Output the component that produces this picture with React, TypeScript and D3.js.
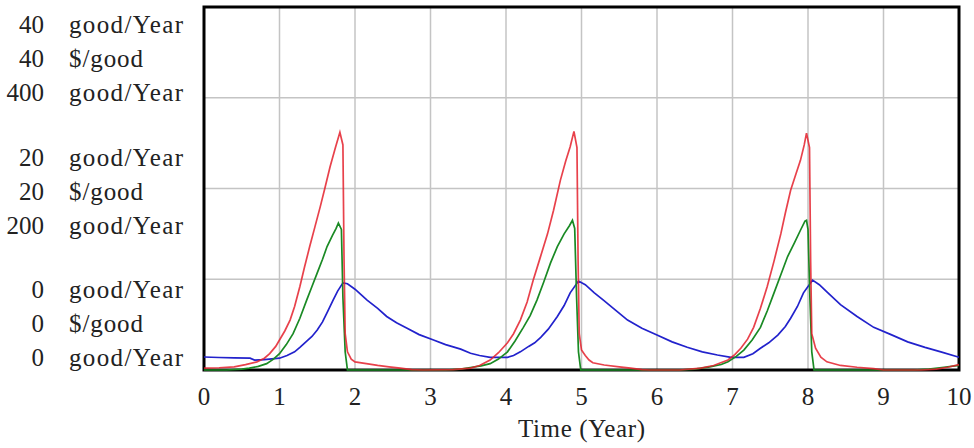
import * as d3 from "d3";

// time axis
const xTicks = [0, 1, 2, 3, 4, 5, 6, 7, 8, 9, 10];

// left axis, one group of three labels per gridline (top, middle, bottom)
const unitLabels = ["good/Year", "$/good", "good/Year"];
const tickValues = [40, 20, 0];
const groupLabels = [
  ["40", "40", "400"],
  ["20", "20", "200"],
  ["0", "0", "0"],
];

// series 1: good/Year, 0..40 (blue)
const seriesBlue: [number, number][] = [
  [0, 1.43], [0.2, 1.38], [0.4, 1.33], [0.61, 1.3], [0.67, 1.1], [0.8, 1.15], [1.0, 1.3],
  [1.1, 1.6], [1.2, 2.0], [1.27, 2.5], [1.35, 3.1], [1.43, 3.7], [1.5, 4.4], [1.57, 5.3],
  [1.64, 6.5], [1.71, 7.7], [1.77, 8.7], [1.84, 9.6], [1.9, 9.5], [2.0, 8.9], [2.08, 8.3],
  [2.16, 7.7], [2.3, 6.8], [2.42, 5.9], [2.55, 5.2], [2.69, 4.6], [2.85, 3.9], [3.04, 3.3],
  [3.2, 2.8], [3.4, 2.3], [3.53, 1.85], [3.65, 1.6], [3.79, 1.4], [4.02, 1.4], [4.1, 1.6],
  [4.19, 2.0], [4.3, 2.6], [4.38, 3.0], [4.46, 3.6], [4.56, 4.5], [4.68, 5.9], [4.77, 7.1],
  [4.85, 8.5], [4.96, 9.8], [5.05, 9.4], [5.17, 8.5], [5.29, 7.7], [5.45, 6.6], [5.61, 5.5],
  [5.8, 4.6], [6.0, 3.85], [6.2, 3.1], [6.4, 2.5], [6.6, 2.0], [6.8, 1.65], [6.98, 1.4],
  [7.15, 1.4], [7.27, 1.8], [7.37, 2.4], [7.48, 3.0], [7.6, 3.85], [7.7, 4.8], [7.77, 5.7],
  [7.86, 7.0], [7.94, 8.5], [8.06, 9.9], [8.15, 9.4], [8.25, 8.6], [8.43, 7.2], [8.65, 5.9],
  [8.87, 4.7], [9.1, 3.9], [9.32, 3.1], [9.55, 2.5], [9.76, 2.0], [10, 1.4],
];

// series 2: $/good, 0..40 (red)
const seriesRed: [number, number][] = [
  [0, 0.2], [0.2, 0.25], [0.4, 0.35], [0.55, 0.6], [0.7, 0.9], [0.8, 1.3], [0.87, 1.8],
  [0.95, 2.6], [1.0, 3.3], [1.07, 4.3], [1.14, 5.5], [1.2, 7.0], [1.27, 9.2], [1.33, 11.3],
  [1.4, 13.6], [1.47, 15.8], [1.54, 18], [1.6, 20], [1.67, 22.4], [1.74, 24.5], [1.8, 26.2],
  [1.84, 24.8], [1.855, 12], [1.87, 4], [1.9, 2.0], [1.95, 1.2], [2.0, 0.9], [2.15, 0.7],
  [2.3, 0.5], [2.45, 0.35], [2.6, 0.2], [2.75, 0.05], [2.9, 0],
  [3.3, 0.05], [3.53, 0.2], [3.65, 0.5], [3.79, 1.1], [3.9, 1.9], [4.02, 3.0], [4.1, 4.0],
  [4.19, 5.5], [4.28, 7.5], [4.36, 9.9], [4.45, 12.3], [4.55, 15], [4.63, 17.6], [4.72, 20.9],
  [4.79, 23], [4.85, 24.6], [4.9, 26.3], [4.94, 24.5], [4.955, 12], [4.97, 4], [5.0, 2.2],
  [5.05, 1.6], [5.1, 1.1], [5.15, 0.8], [5.3, 0.55], [5.5, 0.35], [5.65, 0.2], [5.8, 0.05],
  [5.9, 0], [6.3, 0], [6.58, 0.2], [6.75, 0.5], [6.94, 1.1], [7.03, 1.7], [7.11, 2.4],
  [7.2, 3.4], [7.28, 4.7], [7.37, 6.8], [7.46, 9.2], [7.55, 12], [7.64, 15], [7.7, 17.3],
  [7.77, 19.8], [7.84, 21.6], [7.9, 23.1], [7.95, 24.8], [7.98, 26.1], [8.02, 24.5],
  [8.035, 12], [8.05, 4], [8.1, 2.4], [8.17, 1.4], [8.25, 0.9], [8.43, 0.5], [8.65, 0.3],
  [8.87, 0.15], [9.0, 0], [9.5, 0], [9.7, 0.1], [9.85, 0.3], [10, 0.6],
];

// series 3: good/Year, 0..400 (green)
const seriesGreen: [number, number][] = [
  [0, 0], [0.3, 0], [0.5, 1], [0.6, 2], [0.72, 4], [0.83, 7], [0.92, 12], [1.0, 18],
  [1.09, 28], [1.18, 40], [1.27, 57], [1.36, 77], [1.43, 92], [1.5, 107], [1.57, 122],
  [1.63, 136], [1.7, 148], [1.75, 156], [1.78, 162], [1.82, 155], [1.84, 80], [1.87, 20],
  [1.9, 0], [3.2, 0], [3.4, 1], [3.55, 3], [3.67, 4.5], [3.79, 7], [3.9, 12], [4.02, 20],
  [4.12, 32], [4.23, 47], [4.32, 60], [4.41, 77], [4.5, 97], [4.59, 118], [4.68, 136],
  [4.77, 150], [4.84, 159], [4.88, 165], [4.91, 156], [4.935, 80], [4.96, 20], [4.99, 0],
  [6.3, 0], [6.5, 1], [6.7, 3.5], [6.85, 6], [6.94, 9], [7.05, 15], [7.15, 22], [7.26, 33],
  [7.37, 47], [7.46, 65], [7.55, 85], [7.64, 105], [7.73, 125], [7.82, 140], [7.9, 154],
  [7.96, 164], [7.98, 165], [8.0, 155], [8.025, 80], [8.05, 20], [8.08, 0], [9.4, 0],
  [9.6, 1], [9.8, 3], [10, 5],
];

const W = 974;
const H = 448;
const plot = { left: 204, right: 959, top: 7, bottom: 370 };
const font = "'Liberation Serif', 'Times New Roman', serif";
// measured widths of the unit strings in the reference
const unitWidths: Record<string, number> = { "good/Year": 114, "$/good": 74 };

export default function App() {
  const x = d3.scaleLinear().domain([0, 10]).range([plot.left, plot.right]);
  const y40 = d3.scaleLinear().domain([0, 40]).range([plot.bottom, plot.top]);
  const y400 = d3.scaleLinear().domain([0, 400]).range([plot.bottom, plot.top]);

  const line40 = d3.line<[number, number]>().x((d) => x(d[0])).y((d) => y40(d[1]));
  const line400 = d3.line<[number, number]>().x((d) => x(d[0])).y((d) => y400(d[1]));

  const hGrid = d3.range(1, 4).map((i) => y40(i * 10));

  return (
    <svg
      width={W}
      height={H}
      style={{ position: "absolute", left: 0, top: 0, background: "#fff" }}
      fontFamily={font}
    >
      <rect x={0} y={0} width={W} height={H} fill="#fff" />

      {/* grid */}
      {xTicks.slice(1, -1).map((t) => (
        <line key={"vx" + t} x1={x(t)} x2={x(t)} y1={plot.top} y2={plot.bottom} stroke="#c4c4c4" strokeWidth={1.5} />
      ))}
      {hGrid.map((yy, i) => (
        <line key={"hy" + i} x1={plot.left} x2={plot.right} y1={yy} y2={yy} stroke="#c4c4c4" strokeWidth={1.5} />
      ))}

      {/* frame */}
      <rect
        x={plot.left}
        y={plot.top}
        width={plot.right - plot.left}
        height={plot.bottom - plot.top}
        fill="none"
        stroke="#000"
        strokeWidth={3}
      />

      {/* series */}
      <path d={line40(seriesBlue) ?? ""} fill="none" stroke="#2222cc" strokeWidth={1.7} />
      <path d={line400(seriesGreen) ?? ""} fill="none" stroke="#1a8a24" strokeWidth={1.7} />
      <path d={line40(seriesRed) ?? ""} fill="none" stroke="#e4202c" strokeWidth={1.7} strokeOpacity={0.85} />

      {/* x tick labels */}
      {xTicks.map((t) => (
        <text key={"xt" + t} x={x(t)} y={405} textAnchor="middle" fontSize={25} fill="#222">
          {t}
        </text>
      ))}
      <text
        x={518}
        y={437}
        fontSize={25}
        fill="#222"
        textLength={127}
        lengthAdjust="spacing"
      >
        Time (Year)
      </text>

      {/* y label groups */}
      {tickValues.map((v, k) => {
        const base = y40(v) + 26 - 49 * k;
        return groupLabels[k].map((lab, i) => (
          <g key={"yl" + k + "-" + i}>
            <text x={44} y={base + 34 * i} textAnchor="end" fontSize={25} fill="#222">
              {lab}
            </text>
            <text
              x={69}
              y={base + 34 * i}
              fontSize={25}
              fill="#222"
              textLength={unitWidths[unitLabels[i]]}
              lengthAdjust="spacing"
            >
              {unitLabels[i]}
            </text>
          </g>
        ));
      })}
    </svg>
  );
}
